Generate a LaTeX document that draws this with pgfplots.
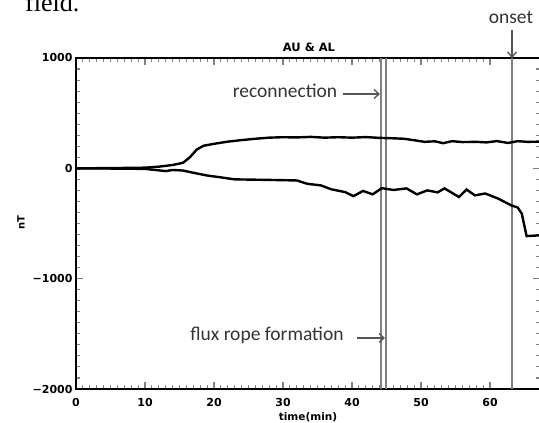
\documentclass[border=0pt]{standalone}
\usepackage{pgfplots}
\pgfplotsset{compat=1.18}
\usetikzlibrary{arrows.meta}
\usepackage{fontspec}
\setmainfont{Liberation Sans}
\newfontfamily\annfont{Carlito}
\newfontfamily\bodyfont{Liberation Serif}
\newfontfamily\tickfont{DejaVu Sans}
\definecolor{vline}{HTML}{808080}
\definecolor{anntext}{HTML}{333333}
\definecolor{annarrow}{HTML}{555555}

\begin{document}
\begin{tikzpicture}[x=1pt,y=1pt]
\useasboundingbox (0,0) rectangle (539,423);

% cut-off line of body text above the figure
\node[anchor=base west, inner sep=0, font=\bodyfont\fontsize{26}{26}\selectfont] at (25,411) {field.};

\begin{axis}[
    at={(76pt,34pt)}, anchor=south west,
    scale only axis, width=464.4pt, height=331pt,
    xmin=0, xmax=67.3, ymin=-2000, ymax=1000,
    axis line style={line width=1.6pt},
    tick pos=both, tick align=inside,
    xtick={0,10,20,30,40,50,60},
    xticklabels={0,10,20,30,40,50,60},
    ytick={-2000,-1000,0,1000},
    yticklabels={−2000,−1000,0,1000},
    minor x tick num=9, minor y tick num=9,
    major tick style={line width=1.1pt},
    minor tick style={line width=1.1pt},
    major tick length=7pt, minor tick length=4pt,
    ticklabel style={font=\tickfont\bfseries\fontsize{11}{11}\selectfont},
    xticklabel style={yshift=-6pt},
    clip=true,
]
% markers for reconnection / flux rope formation and onset
\addplot[vline, line width=2.2pt] coordinates {(44.2,-2000) (44.2,1000)};
\addplot[vline, line width=2.2pt] coordinates {(44.9,-2000) (44.9,1000)};
\addplot[vline, line width=2.2pt] coordinates {(63.2,-2000) (63.2,1000)};

% AU
\addplot[black, line width=2.4pt] coordinates {
(0,0) (5,2) (10,6) (12,15) (14,30) (15.5,50) (16.5,100) (17.5,170)
(18.5,205) (20,222) (22,242) (24,256) (26,268) (28,278) (30,282)
(32,280) (34,285) (36,278) (38,282) (40,278) (42,283) (44,276)
(46,272) (47.5,268) (49,255) (50.5,240) (52,245) (53.2,228)
(54.5,246) (56,238) (58,240) (59.5,235) (61,247) (62.6,230)
(64,246) (65.5,240) (67.3,242)};

% AL
\addplot[black, line width=2.4pt] coordinates {
(0,0) (5,-2) (10,-5) (11.5,-15) (13,-25) (14,-15) (15.5,-20) (17,-40)
(19,-65) (21,-82) (23,-100) (28,-105) (32,-110) (33.5,-140)
(35.5,-155) (37,-190) (39,-215) (40.2,-252) (41.6,-205) (43,-236)
(44.3,-180) (46,-196) (47.9,-182) (49.4,-236) (50.9,-200)
(52.4,-218) (53.4,-182) (55.5,-260) (56.6,-192) (57.8,-245)
(59.3,-228) (61.2,-275) (63.1,-336) (64,-355) (64.6,-410)
(65.3,-614) (67.3,-607)};
\end{axis}

% titles and labels
\node[font=\tickfont\bfseries\fontsize{11.5}{11.5}\selectfont] at (309,376) {AU \& AL};
\node[font=\tickfont\bfseries\fontsize{10.5}{10.5}\selectfont] at (308,6) {time(min)};
\node[rotate=90, font=\tickfont\bfseries\fontsize{10}{10}\selectfont] at (21,200) {nT};

% annotations
\node[text=anntext, font=\annfont\fontsize{19.5}{19.5}\selectfont] at (285,332) {reconnection};
\draw[annarrow, line width=1.3pt, -{Straight Barb[length=5pt,width=9pt]}] (343,329) -- (380,329);
\node[text=anntext, font=\annfont\fontsize{19.5}{19.5}\selectfont] at (267,88) {flux rope formation};
\draw[annarrow, line width=1.3pt, -{Straight Barb[length=5pt,width=9pt]}] (357,85) -- (385,85);
\node[text=anntext, font=\annfont\fontsize{19.5}{19.5}\selectfont] at (511,406) {onset};
\draw[annarrow, line width=1.3pt, -{Straight Barb[length=5pt,width=9pt]}] (512,393) -- (512,365);
\end{tikzpicture}
\end{document}
